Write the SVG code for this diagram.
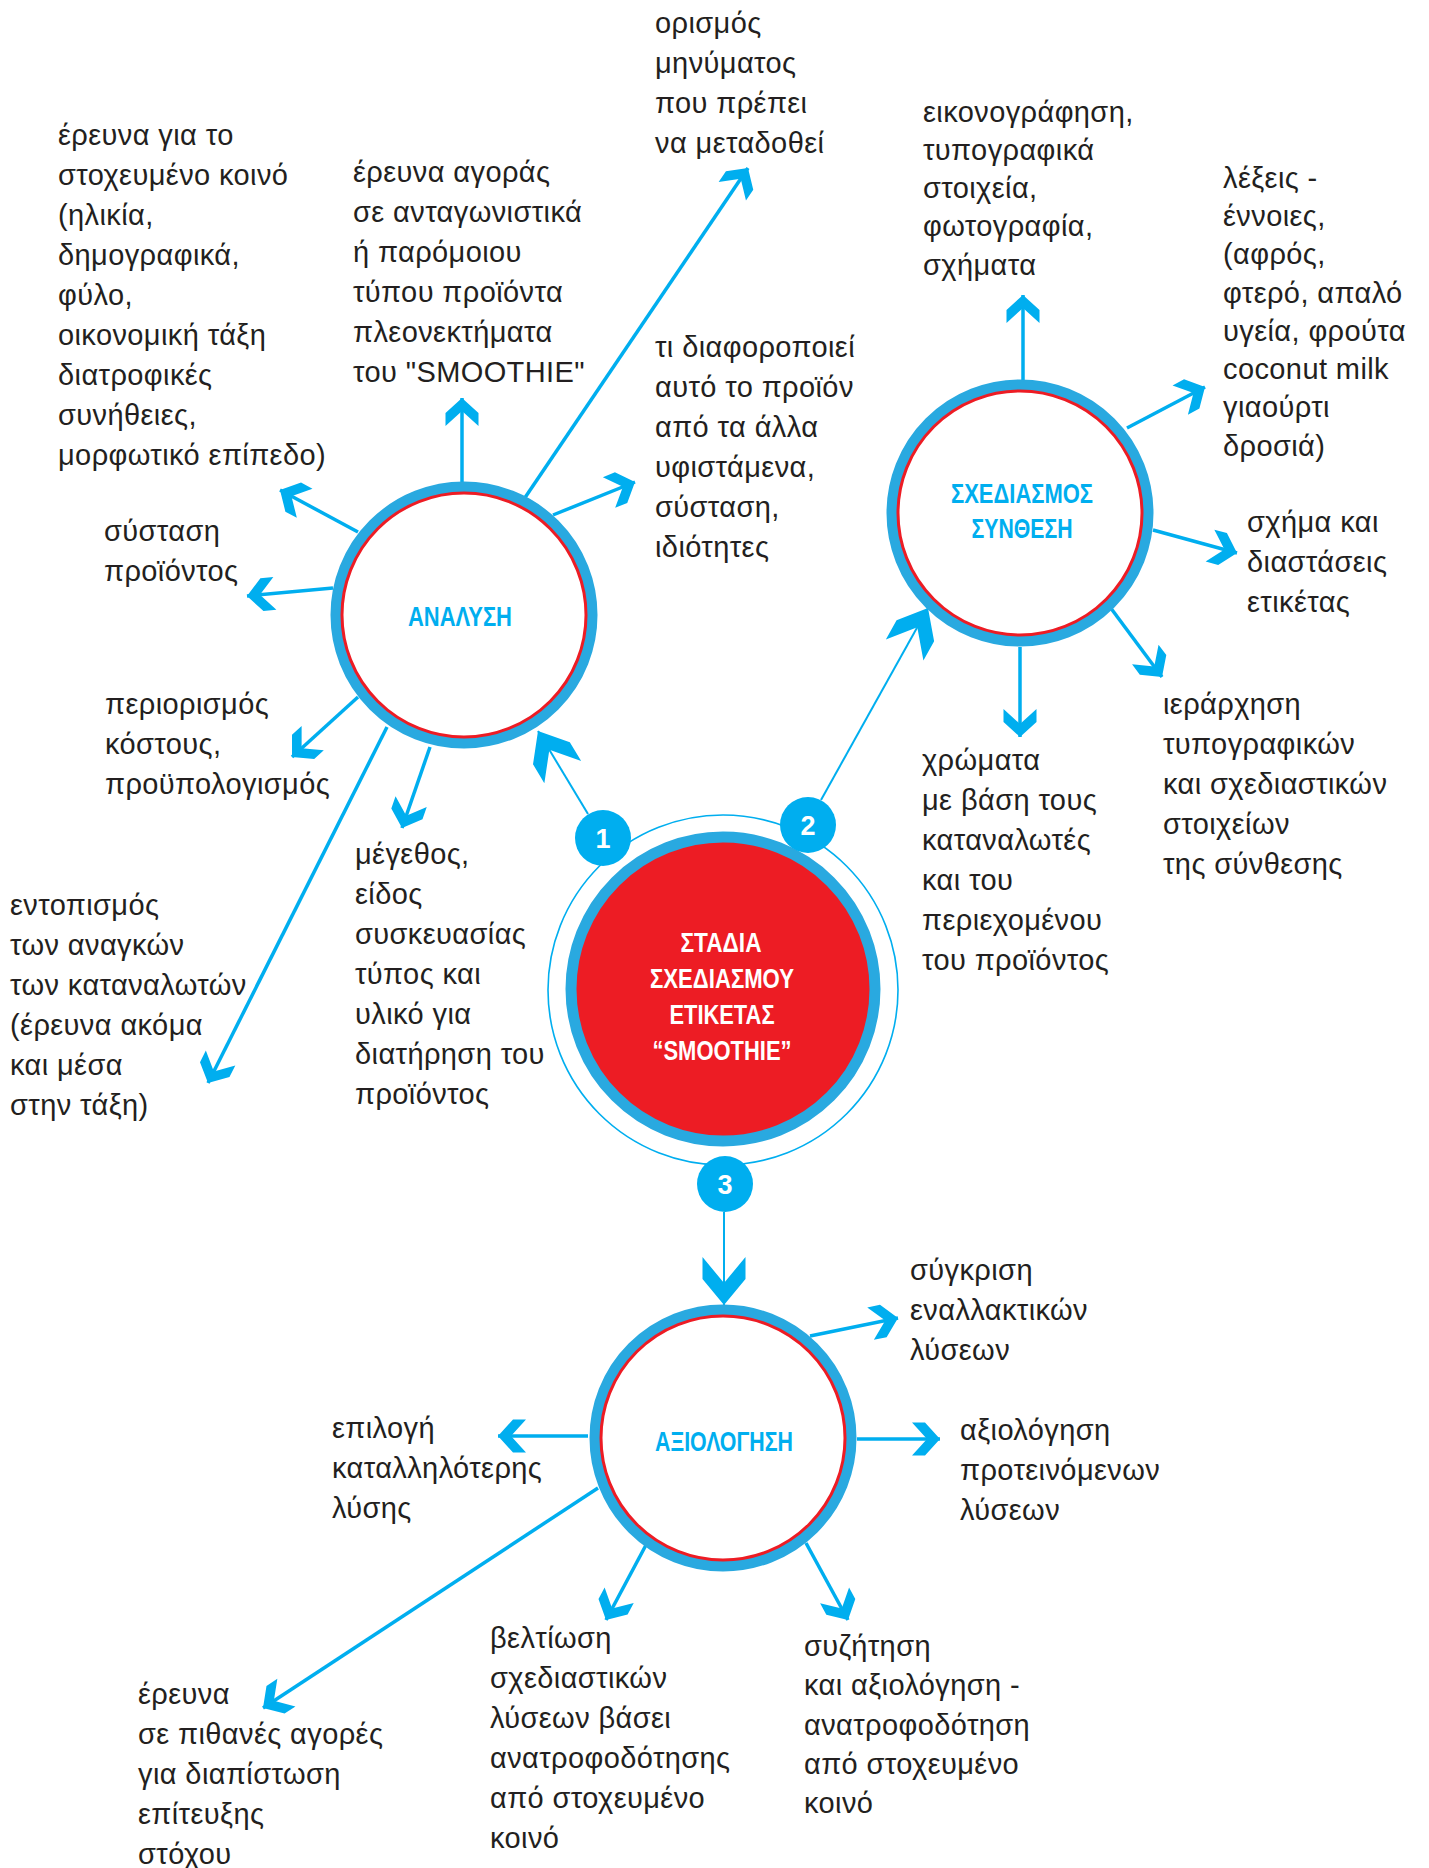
<svg xmlns="http://www.w3.org/2000/svg" width="1429" height="1868" viewBox="0 0 1429 1868">
<style>
.t{font-family:"Liberation Sans",Arial,sans-serif;font-size:29px;letter-spacing:0.4px;fill:#231f20}
.h{font-family:"Liberation Sans",Arial,sans-serif;font-size:28px;font-weight:bold;fill:#00aeef;text-anchor:middle}
.c{font-family:"Liberation Sans",Arial,sans-serif;font-size:27px;font-weight:bold;fill:#ffffff;text-anchor:middle}
.n{font-family:"Liberation Sans",Arial,sans-serif;font-size:27px;font-weight:bold;fill:#ffffff;text-anchor:middle}
.ring{fill:#ffffff;stroke:#29a9e0;stroke-width:11}
.red{fill:none;stroke:#ed1c24;stroke-width:3}
.out{stroke:#00aeef;stroke-width:3.5;fill:none;marker-end:url(#ah)}
.in{stroke:#00aeef;stroke-width:2;fill:none;marker-end:url(#ahb)}
.badge{fill:#00aeef}
</style>
<defs>
<marker id="ah" markerUnits="userSpaceOnUse" markerWidth="40" markerHeight="40" refX="0" refY="0" orient="auto" overflow="visible">
<path d="M0,0 L-15,-16.5 L-28,-16.5 L-13,0 L-28,16.5 L-15,16.5 Z" fill="#00aeef"/>
</marker>
<marker id="ahb" markerUnits="userSpaceOnUse" markerWidth="60" markerHeight="60" refX="0" refY="0" orient="auto" overflow="visible">
<path d="M0,0 L-26,-21.5 L-48,-21.5 L-22,0 L-48,21.5 L-26,21.5 Z" fill="#00aeef"/>
</marker>
</defs>
<rect x="0" y="0" width="1429" height="1868" fill="#ffffff"/>

<g id="connectors">
<!-- analysis -->
<line class="out" x1="462" y1="484" x2="462" y2="398"/>
<line class="out" x1="520" y1="505" x2="748" y2="168"/>
<line class="out" x1="553" y1="515" x2="635" y2="482"/>
<line class="out" x1="358" y1="532" x2="280" y2="490"/>
<line class="out" x1="333" y1="588" x2="247" y2="596"/>
<line class="out" x1="358" y1="697" x2="292" y2="757"/>
<line class="out" x1="430" y1="747" x2="402" y2="828"/>
<line class="out" x1="387" y1="727" x2="208" y2="1083"/>
<line class="in" x1="588" y1="814" x2="538" y2="731"/>
<!-- design -->
<line class="out" x1="1023" y1="380" x2="1023" y2="295"/>
<line class="out" x1="1127" y1="428" x2="1205" y2="387"/>
<line class="out" x1="1153" y1="530" x2="1237" y2="553"/>
<line class="out" x1="1110" y1="607" x2="1162" y2="677"/>
<line class="out" x1="1020" y1="647" x2="1020" y2="737"/>
<line class="in" x1="821" y1="800" x2="928" y2="608"/>
<!-- evaluation -->
<line class="in" x1="724" y1="1212" x2="724" y2="1305"/>
<line class="out" x1="810" y1="1336" x2="898" y2="1318"/>
<line class="out" x1="857" y1="1439" x2="940" y2="1439"/>
<line class="out" x1="588" y1="1436" x2="498" y2="1436"/>
<line class="out" x1="598" y1="1488" x2="263" y2="1708"/>
<line class="out" x1="646" y1="1545" x2="606" y2="1620"/>
<line class="out" x1="806" y1="1543" x2="848" y2="1620"/>
</g>

<g id="node-center">
<circle cx="723" cy="990" r="175" fill="none" stroke="#00aeef" stroke-width="1.6"/>
<circle cx="723" cy="989" r="152" fill="#ed1c24" stroke="#29a9e0" stroke-width="11"/>
<text class="c" x="721" y="952" textLength="81" lengthAdjust="spacingAndGlyphs">ΣΤΑΔΙΑ</text>
<text class="c" x="722" y="988" textLength="144" lengthAdjust="spacingAndGlyphs">ΣΧΕΔΙΑΣΜΟΥ</text>
<text class="c" x="722" y="1024" textLength="105" lengthAdjust="spacingAndGlyphs">ΕΤΙΚΕΤΑΣ</text>
<text class="c" x="722" y="1060" textLength="139" lengthAdjust="spacingAndGlyphs">“SMOOTHIE”</text>
</g>

<g id="badge-1"><circle class="badge" cx="603" cy="838" r="28"/><text class="n" x="603" y="848">1</text></g>
<g id="badge-2"><circle class="badge" cx="808" cy="825" r="28"/><text class="n" x="808" y="835">2</text></g>
<g id="badge-3"><circle class="badge" cx="725" cy="1184" r="28"/><text class="n" x="725" y="1194">3</text></g>

<g id="node-analysis">
<circle class="ring" cx="464" cy="615" r="128"/>
<circle class="red" cx="464" cy="615" r="122"/>
<text class="h" x="460" y="626" textLength="104" lengthAdjust="spacingAndGlyphs">ΑΝΑΛΥΣΗ</text>
</g>

<g id="node-design">
<circle class="ring" cx="1020" cy="513" r="128"/>
<circle class="red" cx="1020" cy="513" r="122"/>
<text class="h" x="1022" y="503" textLength="142" lengthAdjust="spacingAndGlyphs">ΣΧΕΔΙΑΣΜΟΣ</text>
<text class="h" x="1022" y="538" textLength="101" lengthAdjust="spacingAndGlyphs">ΣΥΝΘΕΣΗ</text>
</g>

<g id="node-evaluation">
<circle class="ring" cx="723" cy="1438" r="128"/>
<circle class="red" cx="723" cy="1438" r="122"/>
<text class="h" x="724" y="1451" textLength="138" lengthAdjust="spacingAndGlyphs">ΑΞΙΟΛΟΓΗΣΗ</text>
</g>

<g id="label-target-audience">
<text class="t"><tspan x="58" y="145">έρευνα για το</tspan><tspan x="58" y="185">στοχευμένο κοινό</tspan><tspan x="58" y="225">(ηλικία,</tspan><tspan x="58" y="265">δημογραφικά,</tspan><tspan x="58" y="305">φύλο,</tspan><tspan x="58" y="345">οικονομική τάξη</tspan><tspan x="58" y="385">διατροφικές</tspan><tspan x="58" y="425">συνήθειες,</tspan><tspan x="58" y="465">μορφωτικό επίπεδο)</tspan></text>
</g>
<g id="label-market">
<text class="t"><tspan x="353" y="182">έρευνα αγοράς</tspan><tspan x="353" y="222">σε ανταγωνιστικά</tspan><tspan x="353" y="262">ή παρόμοιου</tspan><tspan x="353" y="302">τύπου προϊόντα</tspan><tspan x="353" y="342">πλεονεκτήματα</tspan><tspan x="353" y="382">του "SMOOTHIE"</tspan></text>
</g>
<g id="label-message">
<text class="t"><tspan x="655" y="33">ορισμός</tspan><tspan x="655" y="73">μηνύματος</tspan><tspan x="655" y="113">που πρέπει</tspan><tspan x="655" y="153">να μεταδοθεί</tspan></text>
</g>
<g id="label-differentiation">
<text class="t"><tspan x="655" y="357">τι διαφοροποιεί</tspan><tspan x="655" y="397">αυτό το προϊόν</tspan><tspan x="655" y="437">από τα άλλα</tspan><tspan x="655" y="477">υφιστάμενα,</tspan><tspan x="655" y="517">σύσταση,</tspan><tspan x="655" y="557">ιδιότητες</tspan></text>
</g>
<g id="label-composition">
<text class="t"><tspan x="104" y="541">σύσταση</tspan><tspan x="104" y="581">προϊόντος</tspan></text>
</g>
<g id="label-cost">
<text class="t"><tspan x="105" y="714">περιορισμός</tspan><tspan x="105" y="754">κόστους,</tspan><tspan x="105" y="794">προϋπολογισμός</tspan></text>
</g>
<g id="label-needs">
<text class="t"><tspan x="10" y="915">εντοπισμός</tspan><tspan x="10" y="955">των αναγκών</tspan><tspan x="10" y="995">των καταναλωτών</tspan><tspan x="10" y="1035">(έρευνα ακόμα</tspan><tspan x="10" y="1075">και μέσα</tspan><tspan x="10" y="1115">στην τάξη)</tspan></text>
</g>
<g id="label-packaging">
<text class="t"><tspan x="355" y="864">μέγεθος,</tspan><tspan x="355" y="904">είδος</tspan><tspan x="355" y="944">συσκευασίας</tspan><tspan x="355" y="984">τύπος και</tspan><tspan x="355" y="1024">υλικό για</tspan><tspan x="355" y="1064">διατήρηση του</tspan><tspan x="355" y="1104">προϊόντος</tspan></text>
</g>
<g id="label-illustration">
<text class="t"><tspan x="923" y="122">εικονογράφηση,</tspan><tspan x="923" y="160">τυπογραφικά</tspan><tspan x="923" y="198">στοιχεία,</tspan><tspan x="923" y="236">φωτογραφία,</tspan><tspan x="923" y="275">σχήματα</tspan></text>
</g>
<g id="label-words">
<text class="t"><tspan x="1223" y="188">λέξεις -</tspan><tspan x="1223" y="226">έννοιες,</tspan><tspan x="1223" y="264">(αφρός,</tspan><tspan x="1223" y="303">φτερό, απαλό</tspan><tspan x="1223" y="341">υγεία, φρούτα</tspan><tspan x="1223" y="379">coconut milk</tspan><tspan x="1223" y="417">γιαούρτι</tspan><tspan x="1223" y="456">δροσιά)</tspan></text>
</g>
<g id="label-shape">
<text class="t"><tspan x="1247" y="532">σχήμα και</tspan><tspan x="1247" y="572">διαστάσεις</tspan><tspan x="1247" y="612">ετικέτας</tspan></text>
</g>
<g id="label-hierarchy">
<text class="t"><tspan x="1163" y="714">ιεράρχηση</tspan><tspan x="1163" y="754">τυπογραφικών</tspan><tspan x="1163" y="794">και σχεδιαστικών</tspan><tspan x="1163" y="834">στοιχείων</tspan><tspan x="1163" y="874">της σύνθεσης</tspan></text>
</g>
<g id="label-colours">
<text class="t"><tspan x="922" y="770">χρώματα</tspan><tspan x="922" y="810">με βάση τους</tspan><tspan x="922" y="850">καταναλωτές</tspan><tspan x="922" y="890">και του</tspan><tspan x="922" y="930">περιεχομένου</tspan><tspan x="922" y="970">του προϊόντος</tspan></text>
</g>
<g id="label-compare">
<text class="t"><tspan x="910" y="1280">σύγκριση</tspan><tspan x="910" y="1320">εναλλακτικών</tspan><tspan x="910" y="1360">λύσεων</tspan></text>
</g>
<g id="label-assess">
<text class="t"><tspan x="960" y="1440">αξιολόγηση</tspan><tspan x="960" y="1480">προτεινόμενων</tspan><tspan x="960" y="1520">λύσεων</tspan></text>
</g>
<g id="label-choose">
<text class="t"><tspan x="332" y="1438">επιλογή</tspan><tspan x="332" y="1478">καταλληλότερης</tspan><tspan x="332" y="1518">λύσης</tspan></text>
</g>
<g id="label-markets">
<text class="t"><tspan x="138" y="1704">έρευνα</tspan><tspan x="138" y="1744">σε πιθανές αγορές</tspan><tspan x="138" y="1784">για διαπίστωση</tspan><tspan x="138" y="1824">επίτευξης</tspan><tspan x="138" y="1864">στόχου</tspan></text>
</g>
<g id="label-improve">
<text class="t"><tspan x="490" y="1648">βελτίωση</tspan><tspan x="490" y="1688">σχεδιαστικών</tspan><tspan x="490" y="1728">λύσεων βάσει</tspan><tspan x="490" y="1768">ανατροφοδότησης</tspan><tspan x="490" y="1808">από στοχευμένο</tspan><tspan x="490" y="1848">κοινό</tspan></text>
</g>
<g id="label-discuss">
<text class="t"><tspan x="804" y="1656">συζήτηση</tspan><tspan x="804" y="1695">και αξιολόγηση -</tspan><tspan x="804" y="1735">ανατροφοδότηση</tspan><tspan x="804" y="1774">από στοχευμένο</tspan><tspan x="804" y="1813">κοινό</tspan></text>
</g>
</svg>
